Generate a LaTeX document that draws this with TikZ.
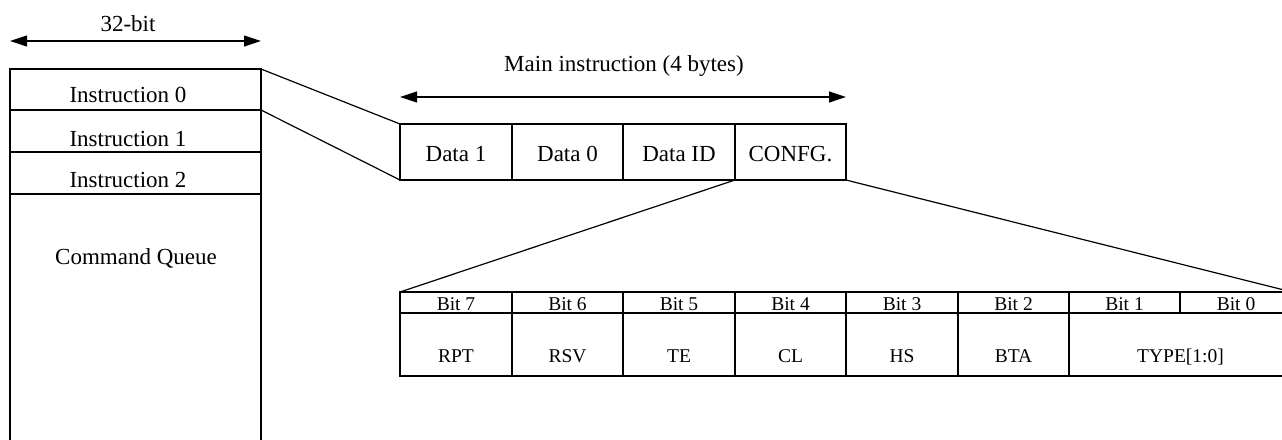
\documentclass[tikz,border=0pt]{standalone}
\usepackage{fontspec}
\setmainfont{Liberation Serif}
\usetikzlibrary{arrows.meta}
\begin{document}
\begin{tikzpicture}[x=1pt,y=-1pt,line width=1.2pt,
  cell/.style={draw,rectangle,anchor=north west,inner sep=0pt,outer sep=0pt},
  txt/.style={anchor=base,inner sep=0pt,font=\fontsize{23}{27}\selectfont},
  btxt/.style={anchor=base,inner sep=0pt,font=\fontsize{19.5}{23}\selectfont},
  dimarrow/.style={{Triangle[length=17pt,width=11pt]}-{Triangle[length=17pt,width=11pt]}}]
\useasboundingbox (0,0) rectangle (1282,439);
% command queue
\node[cell,minimum width=251pt,minimum height=400pt] (cq) at (10,69) {};
\node[cell,minimum width=251pt,minimum height=41pt] (i0) at (10,69) {};
\node[cell,minimum width=251pt,minimum height=42pt] (i1) at (10,110) {};
\node[cell,minimum width=251pt,minimum height=42pt] (i2) at (10,152) {};
\node[txt] (ti0) at (128,102) {Instruction 0};
\node[txt] (ti1) at (128,146) {Instruction 1};
\node[txt] (ti2) at (128,187) {Instruction 2};
\node[txt] (tcq) at (136,264) {Command Queue};
% 32-bit arrow
\coordinate (al) at (10,41);
\coordinate (ar) at (261,41);
\draw[dimarrow] (al) -- (ar);
\node[txt] (t32) at (128,31) {32-bit};
% main instruction
\node[cell,minimum width=112pt,minimum height=56pt] (d1) at (400,124) {};
\node[cell,minimum width=111pt,minimum height=56pt] (d0) at (512,124) {};
\node[cell,minimum width=112pt,minimum height=56pt] (did) at (623,124) {};
\node[cell,minimum width=111pt,minimum height=56pt] (cfg) at (735,124) {};
\node[txt] at (456,161) {Data 1};
\node[txt] at (567.5,161) {Data 0};
\node[txt] at (679,161) {Data ID};
\node[txt] at (790.5,161) {CONFG.};
\coordinate (ml) at (400,97);
\coordinate (mr) at (846,97);
\draw[dimarrow] (ml) -- (mr);
\node[txt] (tmain) at (624,71) {Main instruction (4 bytes)};
% bit table
\node[cell,minimum width=112pt,minimum height=21pt] (b7) at (400,292) {};
\node[cell,minimum width=111pt,minimum height=21pt] (b6) at (512,292) {};
\node[cell,minimum width=112pt,minimum height=21pt] (b5) at (623,292) {};
\node[cell,minimum width=111pt,minimum height=21pt] (b4) at (735,292) {};
\node[cell,minimum width=112pt,minimum height=21pt] (b3) at (846,292) {};
\node[cell,minimum width=111pt,minimum height=21pt] (b2) at (958,292) {};
\node[cell,minimum width=111pt,minimum height=21pt] (b1) at (1069,292) {};
\node[cell,minimum width=112pt,minimum height=21pt] (b0) at (1180,292) {};
\node[cell,minimum width=112pt,minimum height=63pt] (rpt) at (400,313) {};
\node[cell,minimum width=111pt,minimum height=63pt] (rsv) at (512,313) {};
\node[cell,minimum width=112pt,minimum height=63pt] (te) at (623,313) {};
\node[cell,minimum width=111pt,minimum height=63pt] (cl) at (735,313) {};
\node[cell,minimum width=112pt,minimum height=63pt] (hs) at (846,313) {};
\node[cell,minimum width=111pt,minimum height=63pt] (bta) at (958,313) {};
\node[cell,minimum width=223pt,minimum height=63pt] (type) at (1069,313) {};
\foreach \n/\t in {b7/Bit 7,b6/Bit 6,b5/Bit 5,b4/Bit 4,b3/Bit 3,b2/Bit 2,b1/Bit 1,b0/Bit 0}
  \node[btxt] at ([yshift=2.5pt]\n.south) [anchor=base] {\t};
\foreach \n/\t in {rpt/RPT,rsv/RSV,te/TE,cl/CL,hs/HS,bta/BTA,type/TYPE[1:0]}
  \node[btxt] at ([yshift=14pt]\n.south) [anchor=base] {\t};
% connectors
\draw (i0.north east) -- (d1.north west);
\draw (i0.south east) -- (d1.south west);
\draw (cfg.south west) -- (b7.north west);
\draw (cfg.south east) -- (b0.north east);
\end{tikzpicture}
\end{document}
